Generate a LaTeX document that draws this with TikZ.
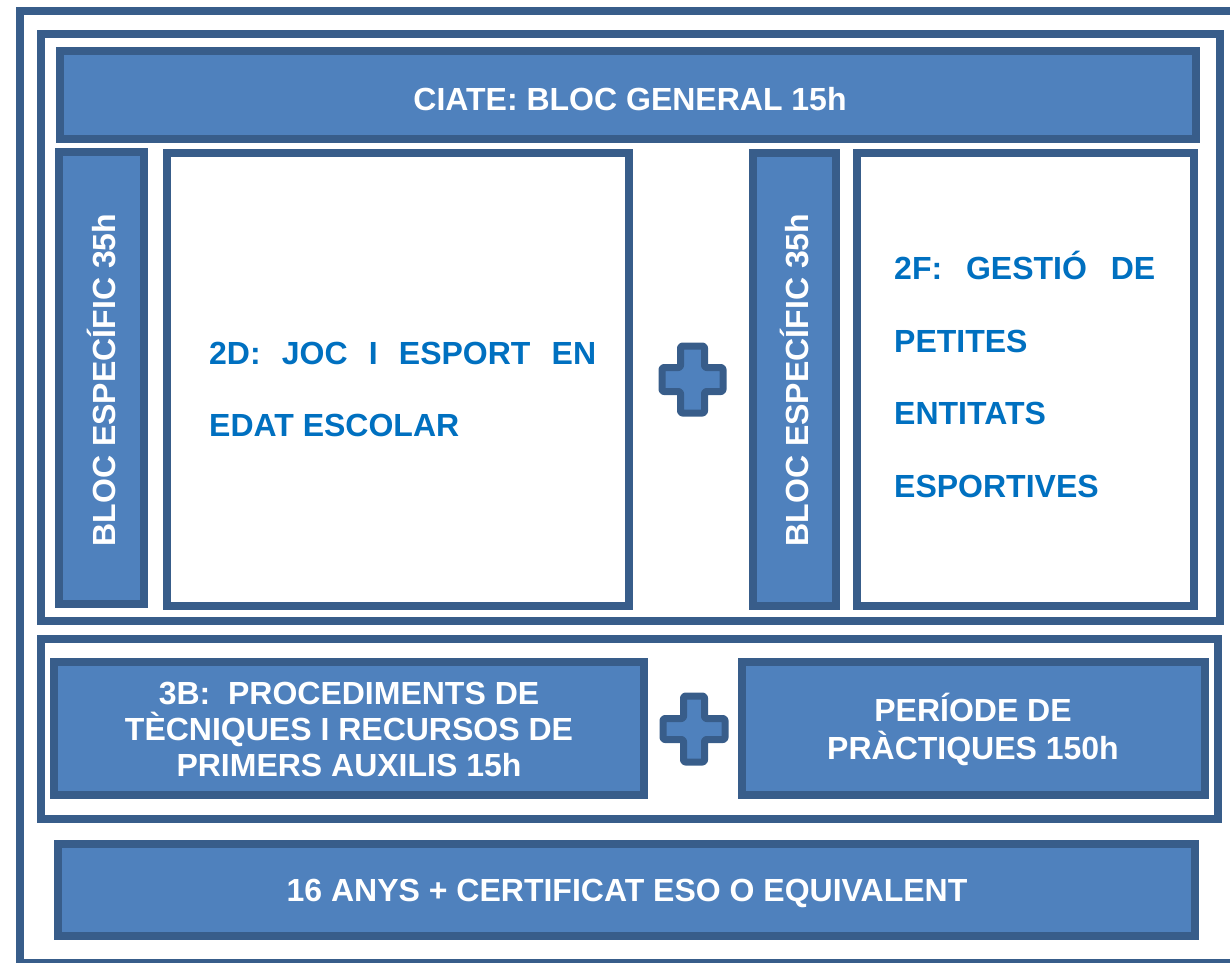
\documentclass[tikz,border=0pt]{standalone}
\usepackage{fontspec}
\setmainfont{Liberation Sans}
\usetikzlibrary{fit}
\definecolor{boxfill}{HTML}{4F81BD}
\definecolor{boxline}{HTML}{385D8A}
\definecolor{txtblue}{HTML}{0070C0}
\tikzset{
  frame/.style={draw=boxline, line width=8pt, inner sep=0pt, outer sep=0pt},
  bluebox/.style={frame, fill=boxfill},
  whitebox/.style={frame, fill=white},
  wtext/.style={text=white, font=\fontsize{32}{36}\selectfont\bfseries, inner sep=0pt, anchor=base},
  btext/.style={text=txtblue, font=\fontsize{32}{36}\selectfont\bfseries, inner sep=0pt, anchor=base west},
  plusstyle/.style={draw=boxline, fill=boxfill, line width=7pt, rounded corners=2pt, line join=round},
  pics/crossmark/.style n args={3}{code={
    \draw[plusstyle] (-#1,-#3) -- (-#3,-#3) -- (-#3,-#2) -- (#3,-#2) -- (#3,-#3) -- (#1,-#3)
      -- (#1,#3) -- (#3,#3) -- (#3,#2) -- (-#3,#2) -- (-#3,#3) -- (-#1,#3) -- cycle;
  }}
}
\begin{document}
\begin{tikzpicture}[x=1pt,y=-1pt]
\useasboundingbox (0,0) rectangle (1230,962);
% frames
\node[frame, fit={(19.5,10.5)(1238,963)}] (outer) {};
\node[frame, fit={(40.5,33.5)(1219.5,621)}] (topframe) {};
\node[frame, fit={(41,638.5)(1217.5,819)}] (botframe) {};
% boxes
\node[bluebox, fit={(59.5,51)(1196,139)}] (ciate) {};
\node[bluebox, fit={(59,152)(144,604)}] (bloca) {};
\node[whitebox, fit={(166.5,153)(628.5,606)}] (box2d) {};
\node[bluebox, fit={(753,153)(836,606)}] (blocb) {};
\node[whitebox, fit={(857,153)(1194,606)}] (box2f) {};
\node[bluebox, fit={(54,661.5)(644,795)}] (box3b) {};
\node[bluebox, fit={(742,661.5)(1204.5,794.5)}] (boxper) {};
\node[bluebox, fit={(57.5,844)(1195,936)}] (box16) {};
% plus signs
\pic (plusa) at (692.5,379.5) {crossmark={30.5}{33.5}{12}};
\pic (plusb) at (694,729) {crossmark={31}{33}{10.5}};
% texts
\node[wtext] (ciatet) at (630,110) {CIATE: BLOC GENERAL 15h};
\node[wtext, rotate=90] (blocat) at (115,380) {BLOC ESPECÍFIC 35h};
\node[wtext, rotate=90] (blocbt) at (808,380) {BLOC ESPECÍFIC 35h};
\node[btext] (t2da) at (209,364) {\makebox[387pt][s]{2D: JOC I ESPORT EN}};
\node[btext] (t2db) at (209,436) {EDAT ESCOLAR};
\node[btext] (t2fa) at (894,279) {\makebox[261pt][s]{2F: GESTIÓ DE}};
\node[btext] (t2fb) at (894,352) {PETITES};
\node[btext] (t2fc) at (894,424) {ENTITATS};
\node[btext] (t2fd) at (894,497) {ESPORTIVES};
\node[wtext] (t3ba) at (349,704) {3B:\ \ PROCEDIMENTS DE};
\node[wtext] (t3bb) at (349,740) {TÈCNIQUES I RECURSOS DE};
\node[wtext] (t3bc) at (349,776) {PRIMERS AUXILIS 15h};
\node[wtext] (tpera) at (973,721) {PERÍODE DE};
\node[wtext] (tperb) at (973,759) {PRÀCTIQUES 150h};
\node[wtext] (t16) at (627,901) {16 ANYS + CERTIFICAT ESO O EQUIVALENT};
\end{tikzpicture}
\end{document}
